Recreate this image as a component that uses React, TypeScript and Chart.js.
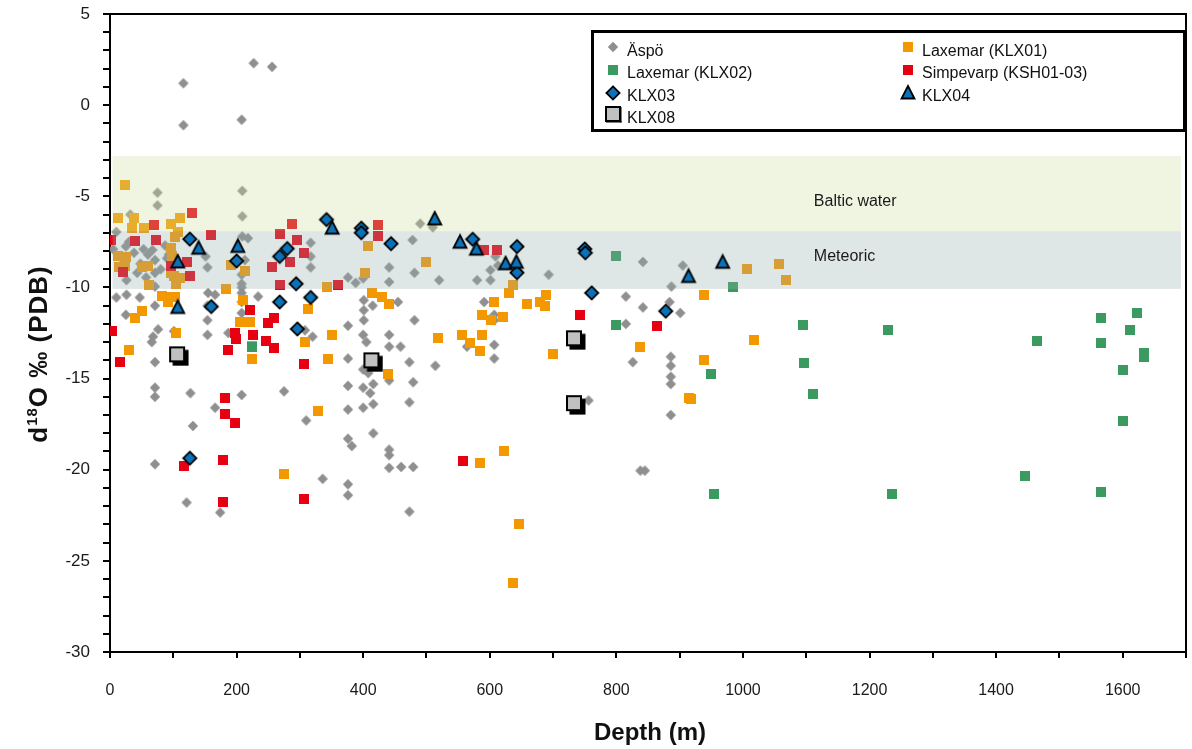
import React, { useEffect, useRef } from "react";
import { Chart, registerables } from "chart.js";

Chart.register(...registerables);

const FONT = '"Liberation Sans", Arial, Helvetica, sans-serif';

// Axis ranges and tick steps
const X_MIN = 0;
const X_MAX = 1700;
const Y_MIN = -30;
const Y_MAX = 5;
const X_TICK_STEP = 100;
const X_LABEL_STEP = 200;
const Y_TICK_STEP = 1;
const Y_LABEL_STEP = 5;
const X_TITLE = "Depth (m)";
const Y_TITLE_PARTS = ["d", "18", "O \u2030 (PDB)"];

// Reference bands (d18O ranges)
const BAND_X = [4, 1692];
const BALTIC_BAND = [-2.8, -6.92];
const METEORIC_BAND = [-6.92, -10.08];
const BAND_LABELS = ["Baltic water", "Meteoric"];
const BAND_LABEL_POS: [number, number][] = [
  [1112, -5.3],
  [1112, -8.32],
];

const SERIES_NAMES = [
  "\u00c4sp\u00f6",
  "Laxemar (KLX01)",
  "Laxemar (KLX02)",
  "Simpevarp (KSH01-03)",
  "KLX03",
  "KLX04",
  "KLX08",
];

// [depth (m), d18O]
const aspo: [number, number][] = [
  [116, 1.2], [116, -1.1], [208, -0.8], [227, 2.3], [256, 2.1],
  [75, -4.8], [75, -5.5], [209, -4.7], [209, -6.1], [32, -6.0], [10, -6.95],
  [5, -7.9], [25, -7.75], [30, -7.5], [53, -7.9], [67, -7.95], [71, -8.5], [87, -7.7], [90, -8.4], [93, -8.2],
  [43, -9.2], [26, -9.6], [57, -9.45], [71, -9.2], [71, -9.95], [15, -8.3], [38, -8.1], [48, -8.7], [80, -9.0], [60, -8.2],
  [209, -7.2], [218, -7.3], [213, -8.5], [208, -9.3], [208, -9.8], [208, -10.0], [208, -10.3], [208, -10.8], [208, -11.4],
  [151, -8.3], [154, -8.9], [155, -10.3], [166, -10.4],
  [10, -10.55], [26, -10.4], [47, -10.55], [25, -11.5], [71, -11.0], [76, -12.3], [68, -12.7], [66, -13.0], [101, -12.4],
  [154, -11.0], [154, -11.8], [154, -12.6], [187, -12.5], [234, -10.5],
  [71, -14.1], [71, -15.5], [71, -16.0], [127, -15.8], [208, -15.9], [275, -15.7], [166, -16.6], [131, -17.6], [310, -17.3],
  [71, -19.7], [121, -21.8], [174, -22.35],
  [317, -7.55], [317, -8.3], [317, -8.9], [376, -9.45], [388, -9.75], [400, -9.5], [441, -8.9], [441, -9.7], [455, -10.8],
  [415, -11.0], [401, -10.7], [401, -11.25], [401, -11.8], [376, -12.1], [441, -12.6], [400, -12.6], [405, -13.0], [308, -12.35], [320, -12.7],
  [490, -6.5], [510, -6.7], [478, -7.4], [481, -9.2], [520, -9.6], [580, -9.6], [601, -9.6], [601, -9.05], [609, -8.3], [613, -8.8],
  [693, -9.3], [842, -8.6], [905, -8.8], [887, -9.95], [481, -11.8], [459, -13.25], [591, -10.8], [607, -11.5], [607, -11.8], [607, -13.15],
  [815, -10.5], [842, -11.1], [815, -12.0], [884, -10.8], [901, -11.4],
  [441, -13.25], [473, -14.1], [514, -14.3], [479, -15.2], [473, -16.3], [441, -15.1], [607, -13.9], [564, -13.25], [756, -16.2],
  [826, -14.1], [886, -13.8], [886, -14.3], [886, -14.9], [886, -15.3], [886, -17.0],
  [441, -18.9], [441, -19.2], [441, -19.9], [460, -19.85], [479, -19.85], [473, -22.3], [838, -20.05], [845, -20.05],
  [336, -20.5], [376, -20.8], [376, -21.4], [376, -18.3], [382, -18.7], [376, -15.4], [376, -16.7], [416, -18.0], [376, -13.9],
  [400, -14.5], [400, -15.5], [400, -16.6], [411, -15.8], [416, -16.4], [416, -15.3], [408, -14.7],
];

const klx01: [number, number][] = [
  [23, -4.4], [13, -6.2], [38, -6.2], [34, -6.75], [53, -6.75], [97, -6.5], [110, -6.2], [108, -6.95], [103, -7.25],
  [96, -7.85], [98, -8.3], [12, -8.3], [25, -8.35], [14, -8.9], [24, -8.85], [51, -8.9], [60, -8.85], [101, -9.4], [110, -9.5],
  [96, -9.2], [105, -9.8], [61, -9.87], [82, -10.45], [92, -10.5], [103, -10.5], [92, -10.8], [51, -11.3], [40, -11.7], [105, -12.5], [30, -13.45],
  [191, -8.75], [214, -9.1], [183, -10.1], [210, -10.7], [205, -11.9], [221, -11.9], [224, -13.2], [224, -13.9],
  [343, -9.96], [313, -11.2], [308, -13.0], [350, -12.6], [407, -7.7], [403, -9.2], [414, -10.3], [430, -10.5], [441, -10.9],
  [345, -13.9], [328, -16.8], [275, -20.25], [439, -14.75],
  [500, -8.6], [636, -9.87], [630, -10.3], [606, -10.8], [659, -10.9], [680, -10.8], [689, -10.4], [688, -11.0], [588, -11.5],
  [602, -11.8], [621, -11.6], [518, -12.75], [556, -12.6], [568, -13.05], [588, -12.6], [585, -13.5], [700, -13.65], [838, -13.25],
  [915, -16.05], [622, -18.95], [585, -19.65], [646, -23.0], [636, -26.2],
  [1006, -9.0], [1057, -8.7], [1068, -9.6], [939, -10.4], [1018, -12.9], [939, -14.0], [918, -16.1],
];

const klx02: [number, number][] = [
  [224, -13.25], [800, -8.25], [800, -12.05], [985, -9.95], [949, -14.75], [1095, -12.05], [1097, -14.15], [1110, -15.85],
  [1229, -12.35], [1465, -12.95], [1566, -11.7], [1622, -11.4], [1611, -12.35], [1566, -13.05], [1634, -13.6], [1633, -13.8],
  [1601, -14.55], [1601, -17.35], [955, -21.35], [1235, -21.35], [1445, -20.35], [1565, -21.2],
];

const simpevarp: [number, number][] = [
  [2, -7.4], [3, -12.4], [16, -14.1], [21, -9.15], [40, -7.45], [69, -6.6], [73, -7.4], [96, -8.85], [130, -5.9], [122, -8.6],
  [127, -9.4], [159, -7.1],
  [287, -6.5], [268, -7.05], [295, -7.4], [306, -8.1], [285, -8.6], [256, -8.9], [268, -9.85], [361, -9.85], [423, -6.55], [423, -7.2],
  [221, -11.25], [259, -11.7], [250, -11.95], [198, -12.5], [199, -12.85], [226, -12.6], [247, -12.95], [259, -13.35], [187, -13.45],
  [306, -14.2], [182, -16.05], [182, -16.95], [197, -17.45], [117, -19.8], [178, -19.45], [178, -21.75], [306, -21.6],
  [591, -7.95], [612, -7.95], [743, -11.5], [864, -12.1], [558, -19.5],
];

const klx03: [number, number][] = [
  [126, -7.35], [200, -8.55], [160, -11.05], [268, -8.3], [280, -7.87], [294, -9.8], [268, -10.8], [317, -10.55], [296, -12.28],
  [126, -19.37], [342, -6.28], [397, -6.75], [397, -7.0], [444, -7.6], [573, -7.36], [643, -7.76], [643, -9.19], [750, -7.89],
  [751, -8.1], [761, -10.3], [878, -11.3],
];

const klx04: [number, number][] = [
  [107, -8.6], [140, -7.85], [202, -7.75], [107, -11.1], [351, -6.75], [513, -6.24], [553, -7.52], [579, -7.9], [625, -8.7],
  [642, -8.62], [914, -9.4], [968, -8.62],
];

const klx08: [number, number][] = [
  [106, -13.67], [413, -14.0], [733, -12.79], [733, -16.35],
];

const SERIES_DATA = [aspo, klx01, klx02, simpevarp, klx03, klx04, klx08];

function makeCanvas(w: number, h: number, draw: (ctx: CanvasRenderingContext2D) => void) {
  const c = document.createElement("canvas");
  c.width = w;
  c.height = h;
  const ctx = c.getContext("2d")!;
  draw(ctx);
  return c;
}

function diamondPath(ctx: CanvasRenderingContext2D, cx: number, cy: number, r: number) {
  ctx.beginPath();
  ctx.moveTo(cx, cy - r);
  ctx.lineTo(cx + r, cy);
  ctx.lineTo(cx, cy + r);
  ctx.lineTo(cx - r, cy);
  ctx.closePath();
}

function buildMarkers() {
  const sq = (color: string) =>
    makeCanvas(10, 10, (ctx) => {
      ctx.fillStyle = color;
      ctx.fillRect(0, 0, 10, 10);
    });
  const aspoM = makeCanvas(12, 12, (ctx) => {
    ctx.fillStyle = "#8f8f8f";
    diamondPath(ctx, 6, 6, 5.2);
    ctx.fill();
  });
  const klx03M = makeCanvas(18, 18, (ctx) => {
    diamondPath(ctx, 9, 9, 6.6);
    ctx.fillStyle = "#0b72b9";
    ctx.fill();
    ctx.lineWidth = 1.8;
    ctx.strokeStyle = "#000";
    ctx.lineJoin = "miter";
    ctx.stroke();
  });
  const klx04M = makeCanvas(18, 18, (ctx) => {
    ctx.beginPath();
    ctx.moveTo(9, 2);
    ctx.lineTo(15.5, 14.5);
    ctx.lineTo(2.5, 14.5);
    ctx.closePath();
    ctx.fillStyle = "#0b72b9";
    ctx.fill();
    ctx.lineWidth = 1.8;
    ctx.strokeStyle = "#000";
    ctx.stroke();
  });
  const klx08M = makeCanvas(24, 24, (ctx) => {
    ctx.fillStyle = "#000";
    ctx.fillRect(7.5, 7.5, 16, 16);
    ctx.fillStyle = "#c0c0c0";
    ctx.fillRect(4, 4, 16, 16);
    ctx.lineWidth = 2;
    ctx.strokeStyle = "#000";
    ctx.strokeRect(5, 5, 14, 14);
  });
  const klx08Legend = makeCanvas(20, 20, (ctx) => {
    ctx.fillStyle = "#c0c0c0";
    ctx.fillRect(2, 2, 16, 16);
    ctx.lineWidth = 2;
    ctx.strokeStyle = "#000";
    ctx.strokeRect(3, 3, 14, 14);
    ctx.fillStyle = "#000";
    ctx.fillRect(17, 3, 1.5, 15.5);
    ctx.fillRect(3, 17, 15.5, 1.5);
  });
  return {
    series: [aspoM, sq("#f39800"), sq("#3a9a60"), sq("#e60012"), klx03M, klx04M, klx08M],
    legend: [aspoM, sq("#f39800"), sq("#3a9a60"), sq("#e60012"), klx03M, klx04M, klx08Legend],
  };
}

export default function App() {
  const ref = useRef<HTMLCanvasElement | null>(null);

  useEffect(() => {
    if (!ref.current) return;
    const markers = buildMarkers();

    const bandPlugin = {
      id: "bands",
      afterDatasetDraw(chart: any, args: any) {
        if (args.index !== 3) return;
        const { ctx, scales } = chart;
        const xs = scales.x;
        const ys = scales.y;
        const x0 = xs.getPixelForValue(BAND_X[0]);
        const x1 = xs.getPixelForValue(BAND_X[1]);
        ctx.save();
        ctx.fillStyle = "rgba(205,222,155,0.3)";
        let y0 = ys.getPixelForValue(BALTIC_BAND[0]);
        let y1 = ys.getPixelForValue(BALTIC_BAND[1]);
        ctx.fillRect(x0, y0, x1 - x0, y1 - y0);
        ctx.fillStyle = "rgba(148,172,172,0.3)";
        y0 = ys.getPixelForValue(METEORIC_BAND[0]);
        y1 = ys.getPixelForValue(METEORIC_BAND[1]);
        ctx.fillRect(x0, y0, x1 - x0, y1 - y0);
        ctx.restore();
      },
    };

    const decorPlugin = {
      id: "decor",
      afterDraw(chart: any) {
        const { ctx, chartArea, scales } = chart;
        ctx.save();
        // top & right frame
        ctx.strokeStyle = "#000";
        ctx.lineWidth = 2;
        ctx.beginPath();
        ctx.moveTo(chartArea.left, chartArea.top);
        ctx.lineTo(chartArea.right, chartArea.top);
        ctx.lineTo(chartArea.right, chartArea.bottom);
        ctx.stroke();

        // band labels
        ctx.fillStyle = "#1a1a1a";
        ctx.font = `16px ${FONT}`;
        ctx.textAlign = "left";
        ctx.textBaseline = "middle";
        BAND_LABELS.forEach((t, i) => {
          ctx.fillText(t, scales.x.getPixelForValue(BAND_LABEL_POS[i][0]), scales.y.getPixelForValue(BAND_LABEL_POS[i][1]));
        });

        // legend
        const lx = 591, ly = 30, lw = 595, lh = 102;
        ctx.fillStyle = "#fff";
        ctx.fillRect(lx, ly, lw, lh);
        ctx.lineWidth = 3;
        ctx.strokeStyle = "#000";
        ctx.strokeRect(lx + 1.5, ly + 1.5, lw - 3, lh - 3);
        const colMarker = [613, 908];
        const colText = [627, 922];
        const rowMarker = [47, 70, 93, 114];
        const rowText = [52, 74, 97, 119];
        const layout: [number, number, number][] = [
          [0, 0, 0],
          [1, 1, 0],
          [2, 0, 1],
          [3, 1, 1],
          [4, 0, 2],
          [5, 1, 2],
          [6, 0, 3],
        ];
        ctx.font = `16px ${FONT}`;
        ctx.fillStyle = "#111";
        ctx.textBaseline = "middle";
        layout.forEach(([si, col, row]) => {
          const m = markers.legend[si];
          ctx.drawImage(m, Math.round(colMarker[col] - m.width / 2), Math.round(rowMarker[row] - m.height / 2));
          ctx.fillText(SERIES_NAMES[si], colText[col], rowText[row]);
        });

        // axis titles
        ctx.fillStyle = "#111";
        ctx.font = `bold 24px ${FONT}`;
        ctx.textAlign = "center";
        ctx.textBaseline = "middle";
        ctx.fillText(X_TITLE, 650, 733);

        ctx.translate(37, 354);
        ctx.rotate(-Math.PI / 2);
        try {
          (ctx as any).letterSpacing = "1px";
        } catch (e) {}
        const big = `bold 26px ${FONT}`;
        const small = `bold 15px ${FONT}`;
        ctx.font = big;
        const w1 = ctx.measureText(Y_TITLE_PARTS[0]).width;
        const w3 = ctx.measureText(Y_TITLE_PARTS[2]).width;
        ctx.font = small;
        const w2 = ctx.measureText(Y_TITLE_PARTS[1]).width;
        let x = -(w1 + w2 + w3) / 2;
        ctx.textAlign = "left";
        ctx.textBaseline = "alphabetic";
        const base = 10;
        ctx.font = big;
        ctx.fillText(Y_TITLE_PARTS[0], x, base);
        x += w1;
        ctx.font = small;
        ctx.fillText(Y_TITLE_PARTS[1], x, base - 10);
        x += w2;
        ctx.font = big;
        ctx.fillText(Y_TITLE_PARTS[2], x, base);
        ctx.restore();
      },
    };

    const orders = [7, 6, 5, 4, 3, 2, 1];
    const chart = new Chart(ref.current, {
      type: "scatter",
      data: {
        datasets: SERIES_DATA.map((d, i) => ({
          label: SERIES_NAMES[i],
          data: d.map(([x, y]) => ({ x, y })),
          pointStyle: markers.series[i] as any,
          pointRadius: 5,
          pointHoverRadius: 5,
          order: orders[i],
          showLine: false,
        })),
      },
      options: {
        animation: false,
        responsive: false,
        devicePixelRatio: 1,
        events: [],
        layout: { padding: { top: 14, right: 5, left: 0, bottom: 0 } },
        plugins: {
          legend: { display: false },
          tooltip: { enabled: false },
        },
        scales: {
          x: {
            type: "linear",
            min: X_MIN,
            max: X_MAX,
            ticks: {
              stepSize: X_TICK_STEP,
              autoSkip: false,
              maxRotation: 0,
              padding: 23,
              color: "#1a1a1a",
              font: { family: FONT, size: 16 },
              callback: (v: any) => (Number(v) % X_LABEL_STEP === 0 ? String(v) : ""),
            },
            grid: { drawOnChartArea: false, drawTicks: true, tickLength: 6, color: "#000", lineWidth: 2 },
            border: { display: true, color: "#000", width: 2 },
            afterFit: (s: any) => {
              s.height = 97;
              s.paddingLeft = 0;
              s.paddingRight = 0;
            },
          },
          y: {
            type: "linear",
            min: Y_MIN,
            max: Y_MAX,
            ticks: {
              stepSize: Y_TICK_STEP,
              autoSkip: false,
              padding: 13,
              color: "#1a1a1a",
              font: { family: FONT, size: 17 },
              callback: (v: any) => (Number(v) % Y_LABEL_STEP === 0 ? String(v) : ""),
            },
            grid: { drawOnChartArea: false, drawTicks: true, tickLength: 7, color: "#000", lineWidth: 2 },
            border: { display: true, color: "#000", width: 2 },
            afterFit: (s: any) => {
              s.width = 110;
              s.paddingTop = 0;
              s.paddingBottom = 0;
            },
          },
        },
      },
      plugins: [bandPlugin, decorPlugin],
    });
    return () => chart.destroy();
  }, []);

  return (
    <div style={{ position: "absolute", left: 0, top: 0, width: 1192, height: 749, background: "#fff" }}>
      <canvas ref={ref} width={1192} height={749} style={{ display: "block" }} />
    </div>
  );
}
